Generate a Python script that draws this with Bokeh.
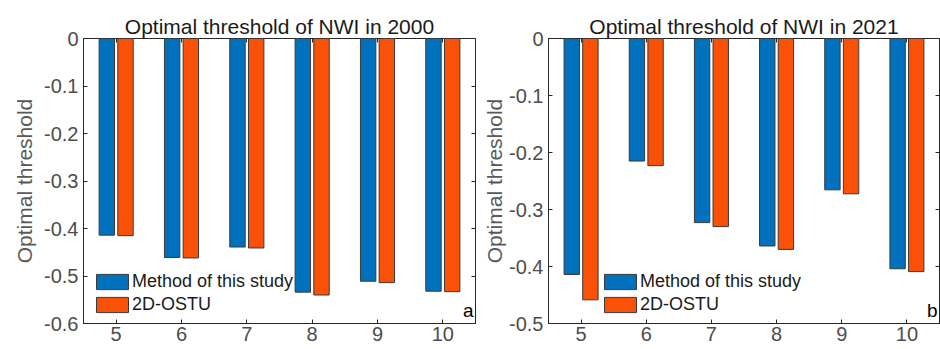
from bokeh.plotting import figure
from bokeh.layouts import row
from bokeh.models import Range1d, FixedTicker, LinearAxis, Label, ColumnDataSource
from bokeh.transform import dodge
from bokeh.embed import file_html
from bokeh.resources import INLINE

months = [5, 6, 7, 8, 9, 10]
method_2000 = [-0.414, -0.461, -0.439, -0.534, -0.511, -0.532]
ostu_2000 = [-0.415, -0.462, -0.441, -0.540, -0.514, -0.533]
method_2021 = [-0.414, -0.215, -0.323, -0.364, -0.2655, -0.404]
ostu_2021 = [-0.4585, -0.223, -0.330, -0.370, -0.2725, -0.409]

yticks_2000 = [0, -0.1, -0.2, -0.3, -0.4, -0.5, -0.6]
ylabels_2000 = ["0", "-0.1", "-0.2", "-0.3", "-0.4", "-0.5", "-0.6"]
yticks_2021 = [0, -0.1, -0.2, -0.3, -0.4, -0.5]
ylabels_2021 = ["0", "-0.1", "-0.2", "-0.3", "-0.4", "-0.5"]

series_names = ["Method of this study", "2D-OSTU"]
BLUE = "#0072BD"
ORANGE = "#F95108"
EDGE = "#3a3a3a"
AXIS = "#262626"
TICKLBL = "#4D4D4D"
FONT = "Liberation Sans"
TICK_FS = "20px"


def panel(title, method, ostu, ymin, yticks, ylabels, tag, width, bl, br, legend_x, lbl_standoff):
    p = figure(width=width, height=349, output_backend="svg", toolbar_location=None,
               x_range=Range1d(4.5, 10.5), y_range=Range1d(ymin, 0),
               min_border_left=bl, min_border_right=br, min_border_top=38,
               min_border_bottom=26, x_axis_location="below")
    p.title.text = title
    p.title.text_font = FONT
    p.title.text_font_size = "21px"
    p.title.text_font_style = "normal"
    p.title.text_color = "#1A1A1A"
    p.title.align = "center"
    p.title.standoff = 2
    p.outline_line_color = AXIS
    p.outline_line_width = 1
    p.xgrid.visible = False
    p.ygrid.visible = False

    src = ColumnDataSource(dict(x=months, m=method, o=ostu))
    p.vbar(x=dodge("x", -0.143, range=p.x_range), top=0, bottom="m", width=0.236, source=src,
           fill_color=BLUE, line_color=EDGE, line_width=1, legend_label=series_names[0])
    p.vbar(x=dodge("x", 0.143, range=p.x_range), top=0, bottom="o", width=0.236, source=src,
           fill_color=ORANGE, line_color=EDGE, line_width=1, legend_label=series_names[1])

    xa = p.xaxis[0]
    ya = p.yaxis[0]
    xa.ticker = FixedTicker(ticks=months)
    xa.major_label_overrides = {m: str(m) for m in months}
    ya.ticker = FixedTicker(ticks=yticks)
    ya.major_label_overrides = {t: l for t, l in zip(yticks, ylabels)}
    ya.axis_label = "Optimal threshold"
    ya.axis_label_text_font = FONT
    ya.axis_label_text_font_size = "21px"
    ya.axis_label_text_font_style = "normal"
    ya.axis_label_text_color = "#595959"
    ya.axis_label_standoff = lbl_standoff
    for ax in (xa, ya):
        ax.major_label_text_font = FONT
        ax.major_label_text_font_size = TICK_FS
        ax.major_label_text_color = TICKLBL
        ax.major_tick_in = 4
        ax.major_tick_out = 0
        ax.minor_tick_in = 0
        ax.minor_tick_out = 0
        ax.axis_line_color = AXIS
        ax.major_tick_line_color = AXIS
    xa.major_label_standoff = 3
    ya.major_label_standoff = 5

    # mirrored ticks (box on)
    top = LinearAxis(ticker=FixedTicker(ticks=months), major_label_text_font_size="0px",
                     major_label_standoff=0, major_tick_in=4, major_tick_out=0,
                     minor_tick_in=0, minor_tick_out=0, axis_line_color=None,
                     major_tick_line_color=AXIS)
    top.major_label_overrides = {m: "" for m in months}
    p.add_layout(top, "above")
    right = LinearAxis(ticker=FixedTicker(ticks=yticks), major_label_text_font_size="0px",
                       major_label_standoff=0, major_tick_in=4, major_tick_out=0,
                       minor_tick_in=0, minor_tick_out=0, axis_line_color=None,
                       major_tick_line_color=AXIS)
    right.major_label_overrides = {t: "" for t in yticks}
    p.add_layout(right, "right")

    lg = p.legend[0]
    lg.location = (legend_x, 8)
    lg.padding = 0
    lg.margin = 0
    lg.spacing = 2
    lg.glyph_width = 40
    lg.glyph_height = 19
    lg.label_height = 19
    lg.label_standoff = 0
    lg.label_text_font = FONT
    lg.label_text_font_size = "18px"
    lg.label_text_color = "#1A1A1A"
    lg.background_fill_alpha = 0
    lg.border_line_alpha = 0

    p.add_layout(Label(x=10.47, y=ymin + 0.1 * 3 / (285 / (abs(ymin) * 10)), text=tag,
                       text_align="right", text_baseline="bottom", text_font=FONT,
                       text_font_size="19px", text_color="#000000"))
    return p


p1 = panel("Optimal threshold of NWI in 2000", method_2000, ostu_2000, -0.6,
           yticks_2000, ylabels_2000, "a", 480, 83, 5, 9, 5)
p2 = panel("Optimal threshold of NWI in 2021", method_2021, ostu_2021, -0.5,
           yticks_2021, ylabels_2021, "b", 460, 68, 1, 52, 0)

layout = row(p1, p2)
open("out.html", "w").write(file_html(layout, INLINE))
